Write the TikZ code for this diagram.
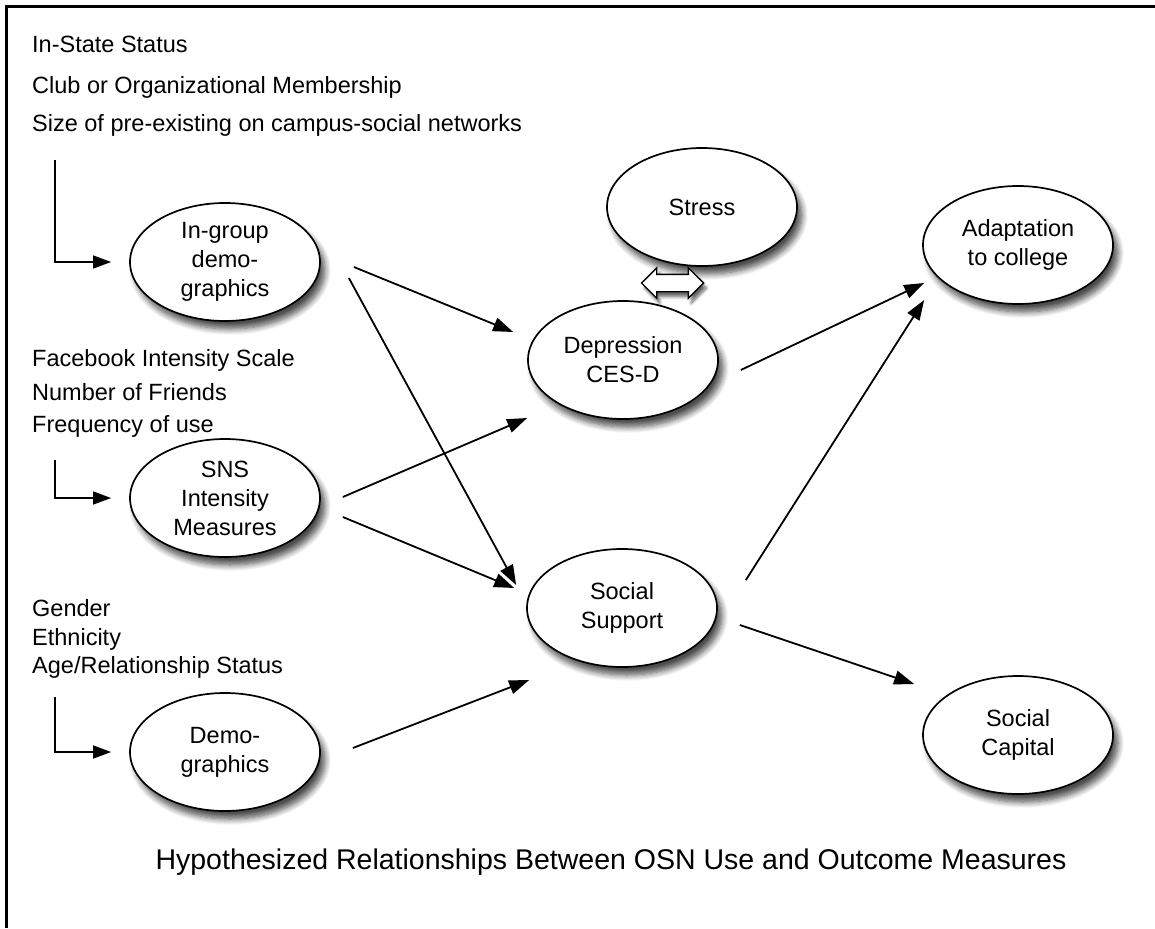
\documentclass[tikz,border=0pt]{standalone}
\usepackage{fontspec}
\setmainfont{Liberation Sans}
\usetikzlibrary{shapes.geometric,shapes.arrows,shadows,shadows.blur,arrows.meta}
\begin{document}
\begin{tikzpicture}[x=1pt,y=-1pt,
  every node/.style={font=\fontsize{23.5}{29}\selectfont},
  lbl/.style={anchor=base west, inner sep=0pt},
  oval/.style={ellipse, draw, line width=1.7pt, fill=white, align=center,
    minimum width=190pt, minimum height=118pt, inner sep=0pt,
    blur shadow={shadow xshift=5pt, shadow yshift=-8pt, shadow blur steps=8, shadow blur radius=6pt, shadow opacity=70}},
  arr/.style={line width=1.8pt, -{Triangle[length=20pt,width=14pt]}},
  elbow/.style={line width=1.5pt, -{Triangle[length=18pt,width=13pt]}}]
\useasboundingbox (0,0) rectangle (1155,928);
\draw[line width=3pt] (6.5,928) -- (6.5,7) -- (1155,7);

% left texts
\node[lbl] (t1) at (32,53) {In-State Status};
\node[lbl] (t2) at (32,94) {Club or Organizational Membership};
\node[lbl] (t3) at (32,132) {Size of pre-existing on campus-social networks};
\node[lbl] (t4) at (32,366) {Facebook Intensity Scale};
\node[lbl] (t5) at (32,400) {Number of Friends};
\node[lbl] (t6) at (32,432) {Frequency of use};
\node[lbl] (t7) at (32,616) {Gender};
\node[lbl] (t8) at (32,645) {Ethnicity};
\node[lbl] (t9) at (32,673) {Age/Relationship Status};

% ovals
\node[oval] (ig) at (225,262) {In-group\\demo-\\graphics};
\node[oval] (sns) at (225,498) {SNS\\Intensity\\Measures};
\node[oval] (dem) at (225,752) {Demo-\\graphics};
\node[oval] (st) at (702,207) {Stress};
\node[oval] (dep) at (623,360) {Depression\\CES-D};
\node[oval] (ad) at (1018,245) {Adaptation\\to college};
\node[oval] (ss) at (622,608) {Social\\Support};
\node[oval] (sc) at (1018,735) {Social\\Capital};

% elbows
\coordinate (e1) at (55,160);
\coordinate (e2) at (55,460);
\coordinate (e3) at (55,697);
\draw[elbow] (e1) |- ([xshift=-18pt]ig.west);
\draw[elbow] (e2) |- ([xshift=-18pt]sns.west);
\draw[elbow] (e3) |- ([xshift=-18pt]dem.west);

% arrows
\draw[arr] ([shift={(33,5)}]ig.east) -- ([shift={(-14,-28)}]dep.west);
\draw[arr] ([shift={(28,16)}]ig.east) -- ([shift={(-10,-23)}]ss.west);
\draw[arr] ([shift={(22,-1)}]sns.east) -- ([shift={(0,58)}]dep.west);
\draw[arr] ([shift={(22,19)}]sns.east) -- ([shift={(-12,-20)}]ss.west);
\draw[arr] ([shift={(32,-4)}]dem.east) -- ([shift={(3,72)}]ss.west);
\draw[arr] ([shift={(22,10)}]dep.east) -- ([shift={(2,38)}]ad.west);
\draw[arr] ([shift={(28,-28)}]ss.east) -- ([shift={(2,55)}]ad.west);
\draw[arr] ([shift={(22,17)}]ss.east) -- ([shift={(-8,-51)}]sc.west);

% double arrow between stress and depression
\node[double arrow, draw, line width=1.4pt, fill=white, minimum height=62pt,
  inner xsep=0pt, inner ysep=8pt, double arrow head extend=6.5pt,
  blur shadow={shadow xshift=3pt, shadow yshift=-5pt, shadow blur steps=6, shadow blur radius=3pt, shadow opacity=60}]
  (da) at (672.5,283) {};

% caption
\node[font=\fontsize{28.5}{34}\selectfont] (cap) at (611,862) {Hypothesized Relationships Between OSN Use and Outcome Measures};
\end{tikzpicture}
\end{document}
